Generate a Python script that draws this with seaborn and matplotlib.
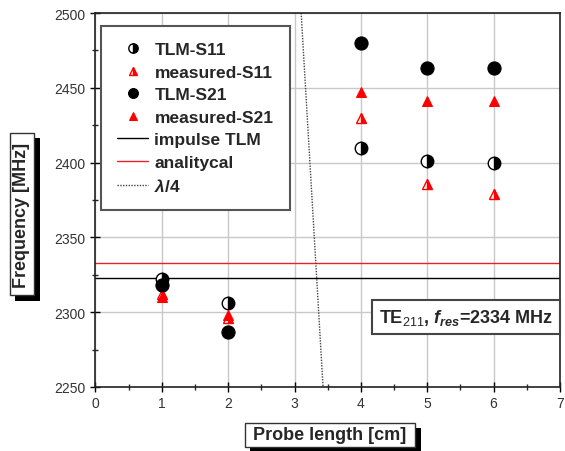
import matplotlib
matplotlib.use("Agg")
import matplotlib.pyplot as plt
import matplotlib.patheffects as pe
from matplotlib.ticker import MultipleLocator
import seaborn as sns
import pandas as pd

# probe lengths in cm
probe = [1, 2, 4, 5, 6]
tlm_s11 = [2322, 2306, 2410, 2401, 2400]
meas_s11 = [2312, 2296, 2430, 2386, 2379]
tlm_s21 = [2318, 2287, 2480, 2463, 2463]
meas_s21 = [2310, 2298, 2447, 2441, 2441]

impulse_tlm = 2323
analytical = 2333
quarter_x = [3.1, 3.43]
quarter_y = [2500, 2250]

sns.set_theme(style="ticks")
plt.rcParams["font.family"] = ["Liberation Sans", "DejaVu Sans"]
plt.rcParams["mathtext.fontset"] = "custom"
plt.rcParams["mathtext.rm"] = "Liberation Sans"
plt.rcParams["mathtext.it"] = "Liberation Sans:italic:bold"
plt.rcParams["mathtext.bf"] = "Liberation Sans:bold"

fig = plt.figure(figsize=(5.65, 4.52), dpi=100)
ax = fig.add_axes([0.169, 0.1416, 0.822, 0.8274])

pts = dict(linestyle="", clip_on=False, zorder=5)
sns.lineplot(x=probe, y=tlm_s11, ax=ax, marker="o", markersize=9, color="black",
             markeredgecolor="black", markeredgewidth=1, fillstyle="right",
             markerfacecoloralt="white", label="TLM-S11", **pts)
sns.lineplot(x=probe, y=meas_s11, ax=ax, marker="^", markersize=7, color="red",
             markeredgecolor="red", markeredgewidth=1, fillstyle="right",
             markerfacecoloralt="white", label="measured-S11", **pts)
sns.lineplot(x=probe, y=tlm_s21, ax=ax, marker="o", markersize=9.5, color="black",
             markeredgecolor="black", label="TLM-S21", **pts)
sns.lineplot(x=probe, y=meas_s21, ax=ax, marker="^", markersize=7.5, color="red",
             markeredgecolor="red", label="measured-S21", **pts)

sns.lineplot(x=[0, 7], y=[impulse_tlm, impulse_tlm], ax=ax, color="black", linewidth=1,
             label="impulse TLM")
sns.lineplot(x=[0, 7], y=[analytical, analytical], ax=ax, color="#e8202a", linewidth=1,
             label="analitycal")
sns.lineplot(x=quarter_x, y=quarter_y, ax=ax, color="#444444", linewidth=1,
             linestyle=(0, (1, 1)), label=r"$\lambda$/4", sort=False)

ax.set_xlim(0, 7)
ax.set_ylim(2250, 2500)
ax.xaxis.set_major_locator(MultipleLocator(1))
ax.xaxis.set_minor_locator(MultipleLocator(0.5))
ax.yaxis.set_major_locator(MultipleLocator(50))
ax.yaxis.set_minor_locator(MultipleLocator(25))
ax.grid(True, which="major", color="#c8c8c8", linewidth=1)
ax.tick_params(which="major", direction="inout", length=7, width=1, labelsize=10,
               colors="black", labelcolor="#333333")
ax.tick_params(which="minor", direction="inout", length=4, width=1)
ax.tick_params(axis="x", pad=3)
for s in ax.spines.values():
    s.set_color("#222222")
    s.set_linewidth(1.2)

handles, labels = ax.get_legend_handles_labels()
leg = ax.legend(handles, labels, loc="upper left", bbox_to_anchor=(0.011, 0.966),
                borderaxespad=0, frameon=True, fancybox=False,
                markerscale=0.75, handlelength=1.8, handletextpad=0.35,
                borderpad=0.95, labelspacing=0.42, prop={"weight": "bold", "size": 12.5})
leg.get_frame().set_edgecolor("#555555")
leg.get_frame().set_linewidth(1.5)
leg.get_frame().set_alpha(1)

ax.text(0.985, 0.187, r"TE$_{211}$, $f_{res}$=2334 MHz", transform=ax.transAxes,
        ha="right", va="center", fontsize=13, fontweight="bold", zorder=6,
        bbox=dict(boxstyle="square,pad=0.4", facecolor="white", edgecolor="#444444",
                  linewidth=1.5))

shadow = [pe.withSimplePatchShadow(offset=(4, -4), shadow_rgbFace="black", alpha=1)]
tx = fig.text(330 / 565, 1 - 436 / 452, " Probe length [cm] ", ha="center", va="center",
              fontsize=13, fontweight="bold",
              bbox=dict(boxstyle="square,pad=0.2", facecolor="white", edgecolor="#333333",
                        linewidth=1))
tx.get_bbox_patch().set_path_effects(shadow)
ty = fig.text(22 / 565, 1 - 215 / 452, " Frequency [MHz] ", ha="center", va="center",
              rotation=90, fontsize=13, fontweight="bold",
              bbox=dict(boxstyle="square,pad=0.2", facecolor="white", edgecolor="#333333",
                        linewidth=1))
ty.get_bbox_patch().set_path_effects(shadow)

fig.savefig("out.png", dpi=100)
